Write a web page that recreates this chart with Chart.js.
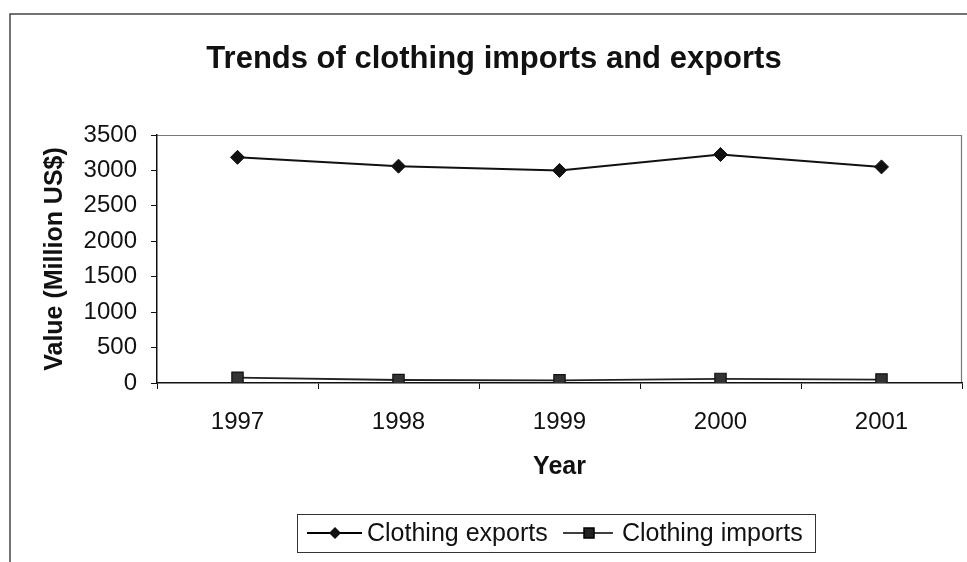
<!DOCTYPE html>
<html>
<head>
<meta charset="utf-8">
<script src="https://cdn.jsdelivr.net/npm/chart.js@4/dist/chart.umd.min.js"></script>
<style>
  html, body { margin: 0; padding: 0; background: #fff; }
  #wrap { width: 967px; height: 562px; position: relative; }
</style>
</head>
<body>
<div id="wrap"><canvas id="c" width="967" height="562"></canvas></div>
<script>
const years = ['1997', '1998', '1999', '2000', '2001'];
const clothingExports = [3185, 3060, 3000, 3225, 3050];
const clothingImports = [75, 42, 37, 58, 49];
const yTicks = [0, 500, 1000, 1500, 2000, 2500, 3000, 3500];

const FONT = '"Liberation Sans", Arial, sans-serif';

const framePlugin = {
  id: 'frame',
  beforeDraw(chart) {
    const ctx = chart.ctx;
    ctx.save();
    ctx.fillStyle = '#fff';
    ctx.fillRect(0, 0, chart.width, chart.height);
    ctx.strokeStyle = '#444';
    ctx.lineWidth = 1.5;
    ctx.beginPath();
    ctx.moveTo(10, chart.height);
    ctx.lineTo(10, 14);
    ctx.lineTo(chart.width, 14);
    ctx.stroke();
    // plot area top and right borders
    const a = chart.chartArea;
    ctx.strokeStyle = '#777';
    ctx.lineWidth = 1.2;
    ctx.beginPath();
    ctx.moveTo(a.left, a.top + 0.5);
    ctx.lineTo(a.right - 0.5, a.top + 0.5);
    ctx.lineTo(a.right - 0.5, a.bottom);
    ctx.stroke();
    ctx.restore();
  },
  afterDraw(chart) {
    const ctx = chart.ctx;
    ctx.save();
    // legend box
    ctx.strokeStyle = '#333';
    ctx.lineWidth = 1;
    ctx.strokeRect(297.5, 514.5, 518, 38);
    const cy = 533;
    ctx.strokeStyle = '#000';
    ctx.fillStyle = '#111';
    // exports sample
    ctx.lineWidth = 2;
    ctx.beginPath(); ctx.moveTo(307, cy); ctx.lineTo(362, cy); ctx.stroke();
    ctx.beginPath();
    ctx.moveTo(335, cy - 6); ctx.lineTo(341, cy); ctx.lineTo(335, cy + 6); ctx.lineTo(329, cy);
    ctx.closePath(); ctx.fill();
    // imports sample
    ctx.lineWidth = 1.5;
    ctx.beginPath(); ctx.moveTo(563, cy); ctx.lineTo(613, cy); ctx.stroke();
    ctx.fillStyle = '#222';
    ctx.fillRect(584, cy - 5, 10, 10);
    ctx.strokeRect(584, cy - 5, 10, 10);
    // texts
    ctx.fillStyle = '#111';
    ctx.font = '25px ' + FONT;
    ctx.textBaseline = 'middle';
    ctx.textAlign = 'left';
    ctx.fillText(chart.data.datasets[0].label, 367, cy + 1);
    ctx.fillText(chart.data.datasets[1].label, 622, cy + 1);
    ctx.restore();
  }
};

new Chart(document.getElementById('c'), {
  type: 'line',
  data: {
    labels: years,
    datasets: [
      {
        label: 'Clothing exports',
        data: clothingExports,
        borderColor: '#111',
        borderWidth: 2,
        pointStyle: 'rectRot',
        pointRadius: 7,
        pointBackgroundColor: '#111',
        pointBorderColor: '#111',
        pointBorderWidth: 1,
        tension: 0,
        fill: false
      },
      {
        label: 'Clothing imports',
        data: clothingImports,
        borderColor: '#222',
        borderWidth: 1.8,
        pointStyle: 'rect',
        pointRadius: 8,
        pointBackgroundColor: '#333',
        pointBorderColor: '#111',
        pointBorderWidth: 1.2,
        tension: 0,
        fill: false
      }
    ]
  },
  options: {
    responsive: false,
    animation: false,
    layout: { autoPadding: false, padding: { left: 26, right: 5, top: 0, bottom: 67 } },
    plugins: {
      legend: { display: false },
      tooltip: { enabled: false },
      title: {
        display: true,
        text: 'Trends of clothing imports and exports',
        color: '#111',
        font: { family: FONT, size: 31, weight: 'bold', lineHeight: 1.2 },
        padding: { top: 40.4, bottom: 57.4 }
      }
    },
    scales: {
      x: {
        type: 'category',
        offset: true,
        afterFit: s => { s.height = 112; s.paddingLeft = 0; s.paddingRight = 0; },
        grid: {
          display: true,
          drawOnChartArea: false,
          drawTicks: true,
          tickLength: 6,
          color: '#111',
          offset: true
        },
        border: { display: true, color: '#111', width: 1.5 },
        ticks: {
          color: '#111',
          font: { family: FONT, size: 24 },
          padding: 19,
          maxRotation: 0
        },
        title: {
          display: true,
          text: 'Year',
          color: '#111',
          font: { family: FONT, size: 25, weight: 'bold', lineHeight: 1.2 },
          padding: { top: 0, bottom: 13 }
        }
      },
      y: {
        min: 0,
        max: 3500,
        afterFit: s => { s.width = 131; s.paddingTop = 0; s.paddingBottom = 0; },
        afterBuildTicks: s => { s.ticks = yTicks.map(v => ({ value: v })); },
        grid: {
          display: true,
          drawOnChartArea: false,
          drawTicks: true,
          tickLength: 6,
          color: '#111'
        },
        border: { display: true, color: '#111', width: 1.5 },
        ticks: {
          color: '#111',
          font: { family: FONT, size: 24 },
          padding: 14,
          callback: v => String(v)
        },
        title: {
          display: true,
          text: 'Value (Million US$)',
          color: '#111',
          font: { family: FONT, size: 25, weight: 'bold', lineHeight: 1.2 },
          padding: { top: 14, bottom: 0 }
        }
      }
    }
  },
  plugins: [framePlugin]
});
</script>
</body>
</html>
